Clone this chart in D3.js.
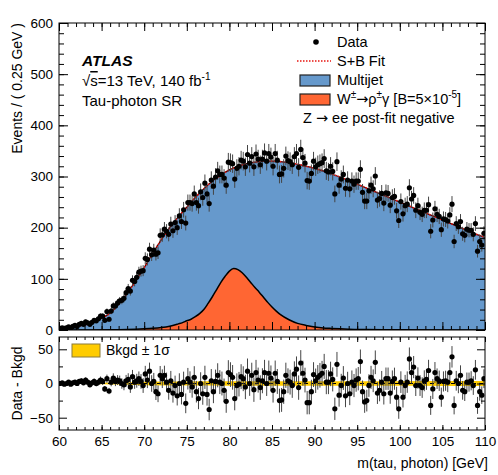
<!DOCTYPE html>
<meta charset="utf-8">
<title>m(tau, photon) - Tau-photon SR</title>

<style>
body { margin: 0; background: #fff; }
text { font-family: "Liberation Sans", Arial, Helvetica, sans-serif; fill: #000; }
.arrow { font-family: "DejaVu Sans", sans-serif; }
</style>

<div id="my_dataviz"></div>

<script src="https://d3js.org/d3.v7.min.js"></script>

<script>

// ---- data ----
// bins of 0.25 GeV from 60 to 110 (200 bins)
var binLow = 60, binWidth = 0.25;

// events per bin (top panel)
var dataCounts = [
  3,4,3,4, 6,4,7,9, 7,11,13,11, 16,14,11,15, 19,18,22,27,
  27,19,36,21, 37,47,47,53, 57,58,62,73, 81,76,97,95, 103,113,115,116,
  140,138,158,147, 156,148,151,185, 186,197,193,187, 207,194,210,200, 223,212,235,209,
  249,249,247,266, 249,243,270,259, 287,266,247,293, 281,299,311,304, 304,297,283,328,
  327,325,295,316, 320,332,330,319, 343,326,339,319, 344,334,323,334, 346,330,345,338,
  320,345,332,304, 305,316,340,331, 329,323,339,345, 318,353,337,326, 292,291,306,330,
  319,323,325,327, 335,311,309,320, 310,266,329,283, 295,304,277,293, 276,291,285,291,
  291,314,269,252, 252,272,283,276, 301,254,257,267, 248,268,267,244, 259,261,233,214,
  251,227,243,246, 278,256,263,234, 243,230,226,234, 234,245,193,215, 237,226,222,196,
  217,216,213,225, 246,173,208,202, 212,188,185,197, 195,195,187,208, 154,173,166,189
];

// data - bkgd per bin (bottom panel)
var residVals = [
  0,1,-1,0, 2,-1,1,2, 0,3,4,1, 5,2,-2,1, 3,0,2,5,
  3,-8,7,-11, 2,8,3,5, 4,0,-2,4, 6,-5,10,2, 4,7,3,-3,
  14,5,18,0, 3,-12,-15,12, 7,12,2,-10, 4,-14,-3,-18, 0,-16,2,-29,
  7,2,-5,9, -12,-22,0,-15, 9,-16,-38,4, -12,3,12,2, 0,-10,-26,16,
  13,9,-22,-3, -1,10,7,-5, 18,0,12,-9, 16,5,-6,4, 16,0,15,8,
  -10,15,3,-25, -24,-12,12,4, 2,-3,14,21, -6,30,15,5, -28,-28,-12,13,
  4,9,12,15, 25,2,2,14, 6,-37,28,-17, -3,8,-18,0, -15,2,-3,5,
  7,32,-12,-27, -25,-3,9,4, 31,-14,-10,2, -15,7,7,-14, 3,7,-20,-37,
  2,-20,-3,2, 36,16,24,-3, 8,-3,-6,4, 6,19,-32,-8, 16,7,4,-20,
  3,4,2,16, 39,-32,4,0, 12,-10,-12,2, 2,4,-3,20, -32,-12,-17,7
];

// S+B fit / multijet shape, one value per GeV from 60 to 110
var fitMass = d3.range(60, 111, 1);
var fitVals = [
  3,4,7,10,15, 23,33,50,72,96,
  122,150,176,200,221, 240,259,276,291,303,
  313,320,325,328,330, 330,329,327,324,320,
  316,311,305,299,292, 285,278,271,264,257,
  250,243,236,229,222, 215,208,201,194,187, 181
];

// W -> rho gamma signal shape
var sigMass = [60,63,66,67,68,69,70,71,72,73,74,74.5,75,75.5,76,76.5,77,77.5,78,78.5,79,79.5,80,80.5,
               81,81.5,82,82.5,83,83.5,84,84.5,85,85.5,86,87,88,89,90,91,92,93,94,96,98,100,105,110];
var sigVals = [0.05,0.15,0.3,0.6,1,1.5,2.2,3.2,4.8,7.5,12,14.5,18,21,26,32,40,52,65,79,93,105,115,120,
               118,112,103,93,83,74,64,54,45,37,30,20,13,9,6,4,3,2.2,1.6,1,0.6,0.4,0.2,0.1];

// Bkgd +- 1 sigma band (half width)
var bandMass = [60,62,65,68,70,75,80,85,90,95,100,105,110];
var bandHalf = [0.3,0.5,1.2,2,2.5,3,3.2,3.3,3.3,3.3,3.4,3.5,3.6];

var xMajor = [60,65,70,75,80,85,90,95,100,105,110];
var xMinor = d3.range(60, 111, 1);
var yTopMajor = [0,100,200,300,400,500,600];
var yTopMinor = d3.range(0, 601, 20);
var yBotMajor = [-50,0,50];
var yBotMinor = [-25,25];

// ---- layout ----
var W = 498, H = 475;
var left = 59, right = 485;
var topY0 = 23, topY1 = 330;
var botY0 = 337, botY1 = 430;

var svg = d3.select("#my_dataviz")
  .append("svg")
    .attr("width", W)
    .attr("height", H);

var x = d3.scaleLinear().domain([60, 110]).range([left, right]);
var yTop = d3.scaleLinear().domain([0, 600]).range([topY1, topY0]);
var yBot = d3.scaleLinear().domain([-68, 68]).range([botY1, botY0]);

var bins = dataCounts.map(function(n, i) {
  return {m: binLow + binWidth * (i + 0.5), n: n, r: residVals[i], e: Math.sqrt(n)};
});

var defs = svg.append("defs");
defs.append("clipPath").attr("id", "clipTop")
  .append("rect").attr("x", left).attr("y", topY0).attr("width", right - left).attr("height", topY1 - topY0);
defs.append("clipPath").attr("id", "clipBot")
  .append("rect").attr("x", left).attr("y", botY0).attr("width", right - left).attr("height", botY1 - botY0);

// ---- top panel ----
var topG = svg.append("g").attr("clip-path", "url(#clipTop)");

var fitPts = fitMass.map(function(m, i) { return [m, fitVals[i]]; });
var sigPts = sigMass.map(function(m, i) { return [m, sigVals[i]]; });

// Multijet area
topG.append("path")
  .datum(fitPts)
  .attr("d", d3.area()
    .x(function(d) { return x(d[0]); })
    .y0(yTop(0))
    .y1(function(d) { return yTop(d[1]); })
    .curve(d3.curveMonotoneX))
  .attr("fill", "#6699cc")
  .attr("stroke", "none");

topG.append("path")
  .datum(fitPts)
  .attr("d", d3.line()
    .x(function(d) { return x(d[0]); })
    .y(function(d) { return yTop(d[1]); })
    .curve(d3.curveMonotoneX))
  .attr("fill", "none")
  .attr("stroke", "#3a0000")
  .attr("stroke-width", 1.2);

// signal
topG.append("path")
  .datum(sigPts)
  .attr("d", d3.area()
    .x(function(d) { return x(d[0]); })
    .y0(yTop(0))
    .y1(function(d) { return yTop(d[1]); })
    .curve(d3.curveMonotoneX))
  .attr("fill", "#ff6633");

topG.append("path")
  .datum(sigPts)
  .attr("d", d3.line()
    .x(function(d) { return x(d[0]); })
    .y(function(d) { return yTop(d[1]); })
    .curve(d3.curveMonotoneX))
  .attr("fill", "none")
  .attr("stroke", "#000")
  .attr("stroke-width", 1.5);

// S+B fit, red dotted
topG.append("path")
  .datum(fitPts)
  .attr("d", d3.line()
    .x(function(d) { return x(d[0]); })
    .y(function(d) { return yTop(d[1]); })
    .curve(d3.curveMonotoneX))
  .attr("fill", "none")
  .attr("stroke", "#e8140f")
  .attr("stroke-width", 1.6)
  .attr("stroke-dasharray", "1.5,1.5");

// data error bars and points
topG.selectAll("errTop")
  .data(bins)
  .enter()
  .append("line")
    .attr("x1", function(d) { return x(d.m); })
    .attr("x2", function(d) { return x(d.m); })
    .attr("y1", function(d) { return yTop(d.n - d.e); })
    .attr("y2", function(d) { return yTop(d.n + d.e); })
    .attr("stroke", "#444")
    .attr("stroke-width", 1);

topG.selectAll("dotTop")
  .data(bins)
  .enter()
  .append("circle")
    .attr("cx", function(d) { return x(d.m); })
    .attr("cy", function(d) { return yTop(d.n); })
    .attr("r", 2.6)
    .attr("fill", "#000");

// ---- bottom panel ----
var botG = svg.append("g").attr("clip-path", "url(#clipBot)");

var bandPts = bandMass.map(function(m, i) { return [m, bandHalf[i]]; });
botG.append("path")
  .datum(bandPts)
  .attr("d", d3.area()
    .x(function(d) { return x(d[0]); })
    .y0(function(d) { return yBot(-d[1]); })
    .y1(function(d) { return yBot(d[1]); })
    .curve(d3.curveMonotoneX))
  .attr("fill", "#ffcc00");

botG.append("line")
  .attr("x1", x(60)).attr("x2", x(110))
  .attr("y1", yBot(0)).attr("y2", yBot(0))
  .attr("stroke", "#000")
  .attr("stroke-width", 1)
  .attr("stroke-dasharray", "4,3");

botG.selectAll("errBot")
  .data(bins)
  .enter()
  .append("line")
    .attr("x1", function(d) { return x(d.m); })
    .attr("x2", function(d) { return x(d.m); })
    .attr("y1", function(d) { return yBot(d.r - d.e); })
    .attr("y2", function(d) { return yBot(d.r + d.e); })
    .attr("stroke", "#444")
    .attr("stroke-width", 1);

botG.selectAll("dotBot")
  .data(bins)
  .enter()
  .append("circle")
    .attr("cx", function(d) { return x(d.m); })
    .attr("cy", function(d) { return yBot(d.r); })
    .attr("r", 2.6)
    .attr("fill", "#000");

// ---- frames and ticks (ATLAS style, ticks inside on all sides) ----
function ticks(g, axis, values, size, labels) {
  g.call(axis.tickValues(values).tickSize(-size).tickFormat(labels ? d3.format("d") : ""))
    .call(function(s) { s.select(".domain").remove(); });
  g.selectAll("line").attr("stroke", "#000").attr("stroke-width", 1);
  g.selectAll("text").attr("font-size", 13.5).attr("fill", "#000")
    .attr("font-family", "Liberation Sans, Arial, sans-serif");
  return g;
}

// top panel
ticks(svg.append("g").attr("transform", "translate(0," + topY1 + ")"), d3.axisBottom(x), xMinor, 4, false);
ticks(svg.append("g").attr("transform", "translate(0," + topY1 + ")"), d3.axisBottom(x), xMajor, 8, false);
ticks(svg.append("g").attr("transform", "translate(0," + topY0 + ")"), d3.axisTop(x), xMinor, 4, false);
ticks(svg.append("g").attr("transform", "translate(0," + topY0 + ")"), d3.axisTop(x), xMajor, 8, false);
ticks(svg.append("g").attr("transform", "translate(" + left + ",0)"), d3.axisLeft(yTop), yTopMinor, 5, false);
ticks(svg.append("g").attr("transform", "translate(" + left + ",0)"), d3.axisLeft(yTop).tickPadding(6), yTopMajor, 9, true);
ticks(svg.append("g").attr("transform", "translate(" + right + ",0)"), d3.axisRight(yTop), yTopMinor, 5, false);
ticks(svg.append("g").attr("transform", "translate(" + right + ",0)"), d3.axisRight(yTop), yTopMajor, 9, false);

// bottom panel
ticks(svg.append("g").attr("transform", "translate(0," + botY1 + ")"), d3.axisBottom(x), xMinor, 3, false);
ticks(svg.append("g").attr("transform", "translate(0," + botY1 + ")"), d3.axisBottom(x).tickPadding(6), xMajor, 5, true);
ticks(svg.append("g").attr("transform", "translate(0," + botY0 + ")"), d3.axisTop(x), xMinor, 3, false);
ticks(svg.append("g").attr("transform", "translate(0," + botY0 + ")"), d3.axisTop(x), xMajor, 5, false);
ticks(svg.append("g").attr("transform", "translate(" + left + ",0)"), d3.axisLeft(yBot), yBotMinor, 4, false);
ticks(svg.append("g").attr("transform", "translate(" + left + ",0)"), d3.axisLeft(yBot).tickPadding(6), yBotMajor, 8, true);
ticks(svg.append("g").attr("transform", "translate(" + right + ",0)"), d3.axisRight(yBot), yBotMinor, 4, false);
ticks(svg.append("g").attr("transform", "translate(" + right + ",0)"), d3.axisRight(yBot), yBotMajor, 8, false);

svg.append("rect")
  .attr("x", left).attr("y", topY0).attr("width", right - left).attr("height", topY1 - topY0)
  .attr("fill", "none").attr("stroke", "#000").attr("stroke-width", 1);
svg.append("rect")
  .attr("x", left).attr("y", botY0).attr("width", right - left).attr("height", botY1 - botY0)
  .attr("fill", "none").attr("stroke", "#000").attr("stroke-width", 1);

// ---- axis titles ----
svg.append("text")
  .attr("transform", "translate(22," + topY0 + ") rotate(-90)")
  .attr("text-anchor", "end")
  .attr("font-size", 14)
  .text("Events / ( 0.25 GeV )");

svg.append("text")
  .attr("transform", "translate(22," + ((botY0 + botY1) / 2) + ") rotate(-90)")
  .attr("text-anchor", "middle")
  .attr("font-size", 14)
  .text("Data - Bkgd");

svg.append("text")
  .attr("x", right + 3)
  .attr("y", 468)
  .attr("text-anchor", "end")
  .attr("font-size", 14)
  .text("m(tau, photon) [GeV]");

// ---- ATLAS label ----
svg.append("text")
  .attr("x", 82).attr("y", 66)
  .attr("font-size", 15.5)
  .attr("font-weight", "bold")
  .attr("font-style", "italic")
  .text("ATLAS");

var lum = svg.append("text").attr("x", 82).attr("y", 86).attr("font-size", 15);
lum.append("tspan").text("\u221A");
lum.append("tspan").attr("text-decoration", "overline").text("s");
lum.append("tspan").text("=13 TeV, 140 fb");
lum.append("tspan").attr("dy", -6).attr("font-size", 10).text("-1");

svg.append("text")
  .attr("x", 82).attr("y", 106)
  .attr("font-size", 15)
  .text("Tau-photon SR");

// ---- legend ----
var lx = 337;
var legend = svg.append("g").attr("font-size", 14.5);

legend.append("circle").attr("cx", 316).attr("cy", 42).attr("r", 2.8).attr("fill", "#000");
legend.append("text").attr("x", lx).attr("y", 47).attr("font-size", 14.5).text("Data");

legend.append("line")
  .attr("x1", 297).attr("x2", 331).attr("y1", 61).attr("y2", 61)
  .attr("stroke", "#e8140f").attr("stroke-width", 1.6).attr("stroke-dasharray", "1.5,1.5");
legend.append("text").attr("x", lx).attr("y", 66).attr("font-size", 14.5).text("S+B Fit");

legend.append("rect").attr("x", 300).attr("y", 75).attr("width", 30).attr("height", 11)
  .attr("fill", "#6699cc").attr("stroke", "#222").attr("stroke-width", 1.2);
legend.append("text").attr("x", lx).attr("y", 85).attr("font-size", 14.5).text("Multijet");

legend.append("rect").attr("x", 300).attr("y", 94).attr("width", 30).attr("height", 11)
  .attr("fill", "#ff6633").attr("stroke", "#222").attr("stroke-width", 1.2);
var sig = legend.append("text").attr("x", lx).attr("y", 104).attr("font-size", 14.5);
sig.append("tspan").text("W");
sig.append("tspan").attr("dy", -6).attr("font-size", 10).text("\u00B1");
sig.append("tspan").attr("dy", 6).attr("class", "arrow").text("\u2192");
sig.append("tspan").text("\u03C1");
sig.append("tspan").attr("dy", -6).attr("font-size", 10).text("\u00B1");
sig.append("tspan").attr("dy", 6).text("\u03B3 [B=5\u00D710");
sig.append("tspan").attr("dy", -6).attr("font-size", 10).text("-5");
sig.append("tspan").attr("dy", 6).text("]");

var zl = legend.append("text").attr("x", 303).attr("y", 123).attr("font-size", 14.5);
zl.append("tspan").text("Z ");
zl.append("tspan").attr("class", "arrow").text("\u2192");
zl.append("tspan").text(" ee post-fit negative");

// bottom legend
svg.append("rect").attr("x", 72).attr("y", 344).attr("width", 28).attr("height", 13)
  .attr("fill", "#ffcc00").attr("stroke", "#8a7a3a").attr("stroke-width", 1);
svg.append("text").attr("x", 106).attr("y", 355).attr("font-size", 14).text("Bkgd \u00B1 1\u03C3");

</script>
